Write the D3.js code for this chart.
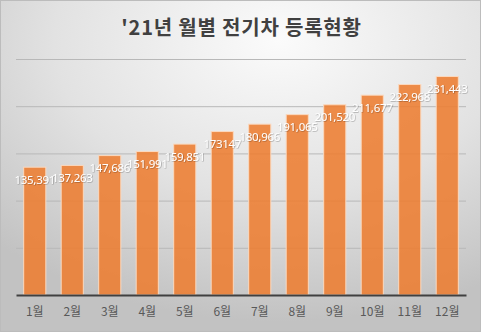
<!DOCTYPE html>
<html>
<head>
<meta charset="utf-8">
<script src="https://cdn.jsdelivr.net/npm/d3@7"></script>
<style>
  html, body { margin: 0; padding: 0; background: #fff; }
  svg { display: block; }
</style>
</head>
<body>
<div id="chart"></div>
<script>
// Monthly EV registrations, 2021
const months = ["1월","2월","3월","4월","5월","6월","7월","8월","9월","10월","11월","12월"];
const registrations = [135391, 137263, 147686, 151991, 159851, 173147, 180966, 191065, 201520, 211677, 222968, 231443];
const valueLabels = ["135,391","137,263","147,686","151,991","159,851","173147","180,966","191,065","201,520","211,677","222,968","231,443"];
const gridTicks = [0, 50000, 100000, 150000, 200000, 250000];
const title = "'21년 월별 전기차 등록현황";

const W = 481, H = 332;
const margin = { left: 16, right: 15, top: 59, bottom: 37 };
const font = "'Noto Sans CJK KR', 'Noto Sans', sans-serif";
const numFont = "'Noto Sans', 'Noto Sans CJK KR', sans-serif";

const svg = d3.select("#chart").append("svg")
  .attr("width", W).attr("height", H);

const defs = svg.append("defs");
const bg = defs.append("radialGradient").attr("id", "bg")
  .attr("cx", "0.58").attr("cy", "0.12").attr("r", "0.85");
bg.append("stop").attr("offset", "0").attr("stop-color", "#fbfbfb");
bg.append("stop").attr("offset", "0.55").attr("stop-color", "#e2e2e2");
bg.append("stop").attr("offset", "1").attr("stop-color", "#c2c2c2");

const shadow = defs.append("filter").attr("id", "txtShadow")
  .attr("x", "-10%").attr("y", "-30%").attr("width", "120%").attr("height", "160%");
shadow.append("feDropShadow").attr("dx", 0.6).attr("dy", 0.6)
  .attr("stdDeviation", 0.5).attr("flood-color", "#000").attr("flood-opacity", 0.35);

// chart area background and frame
svg.append("rect").attr("x", 0.5).attr("y", 0.5)
  .attr("width", W - 1).attr("height", H - 1)
  .attr("fill", "url(#bg)").attr("stroke", "#bcbcbc").attr("stroke-width", 1);

const x = d3.scaleBand().domain(months)
  .range([margin.left, W - margin.right]).paddingInner(0.41).paddingOuter(0.205);
const y = d3.scaleLinear().domain([0, 250000])
  .range([H - margin.bottom, margin.top]);

// horizontal gridlines
svg.append("g")
  .attr("transform", `translate(${margin.left},0)`)
  .call(d3.axisLeft(y).tickValues(gridTicks.slice(1))
    .tickSize(-(W - margin.left - margin.right)).tickFormat(""))
  .call(g => g.select(".domain").remove())
  .call(g => g.selectAll(".tick line").attr("stroke", "#b8b8b8").attr("stroke-width", 1));

// bars
svg.append("g").selectAll("rect")
  .data(registrations)
  .join("rect")
  .attr("x", (d, i) => x(months[i]))
  .attr("y", d => y(d))
  .attr("width", x.bandwidth())
  .attr("height", d => y(0) - y(d))
  .attr("fill", "#ED7D31").attr("fill-opacity", 0.88)
  .attr("stroke", "#fbd9bf").attr("stroke-width", 1);

// category axis
svg.append("g")
  .attr("transform", `translate(0,${y(0)})`)
  .call(d3.axisBottom(x).tickSize(0).tickPadding(12))
  .call(g => g.select(".domain").attr("stroke", "#404040").attr("stroke-width", 2))
  .call(g => g.selectAll("text")
    .attr("font-family", font).attr("font-size", 12).attr("fill", "#595959"));

// value labels
svg.append("g").selectAll("text")
  .data(registrations)
  .join("text")
  .attr("x", (d, i) => x(months[i]) + x.bandwidth() / 2)
  .attr("y", d => y(d) + 16.5)
  .attr("text-anchor", "middle")
  .attr("font-family", numFont).attr("font-size", 11.5)
  .attr("letter-spacing", -0.3)
  .attr("fill", "#ffffff")
  .attr("filter", "url(#txtShadow)")
  .text((d, i) => valueLabels[i]);

// title
svg.append("text")
  .attr("x", W / 2 + 1).attr("y", 35)
  .attr("text-anchor", "middle")
  .attr("font-family", font).attr("font-size", 20).attr("font-weight", "bold")
  .attr("letter-spacing", 0.8)
  .attr("fill", "#404040")
  .text(title);
</script>
</body>
</html>
